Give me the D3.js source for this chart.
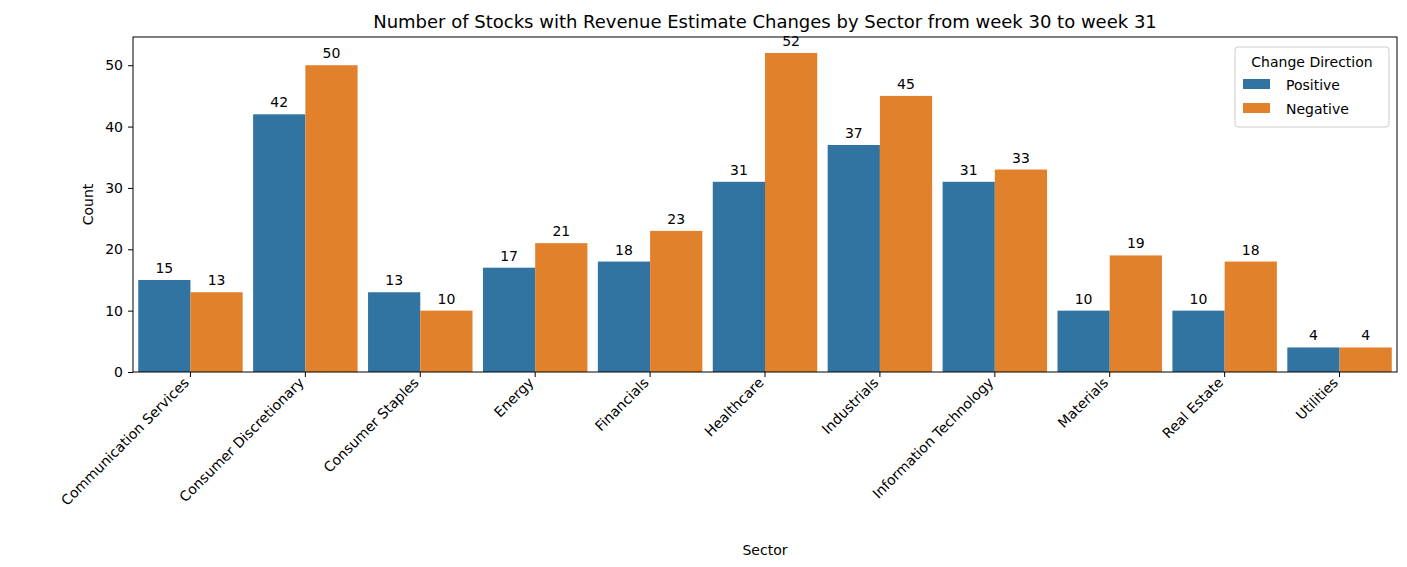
<!DOCTYPE html>
<html><head><meta charset="utf-8">
<script src="https://cdn.jsdelivr.net/npm/d3@7"></script>
<style>body{margin:0;background:#fff;font-family:"DejaVu Sans",sans-serif;}</style>
</head><body><svg id="chart" width="1407" height="567"></svg>
<script>
const sectors = ["Communication Services","Consumer Discretionary","Consumer Staples","Energy","Financials","Healthcare","Industrials","Information Technology","Materials","Real Estate","Utilities"];
const positive = [15,42,13,17,18,31,37,31,10,10,4];
const negative = [13,50,10,21,23,52,45,33,19,18,4];
const seriesNames = ["Positive","Negative"];
const colors = ["#3274a1","#e1812c"];
const yTicks = [0,10,20,30,40,50];

const svg = d3.select("#chart");
const m = {l:133, r:1397, t:37, b:372};
const x = d3.scaleBand().domain(sectors).range([m.l, m.r]).paddingInner(0).paddingOuter(0);
const x1 = d3.scaleBand().domain(seriesNames).range([0, x.bandwidth()]).paddingInner(0).paddingOuter(0.2 / 0.8 * 0.5 * 0.8 / 0.4 * 0.4);
const y = d3.scaleLinear().domain([0, 54.6]).range([m.b, m.t]);

svg.append("text").attr("x", (m.l+m.r)/2).attr("y", 28).attr("text-anchor","middle")
  .attr("font-size", 18).text("Number of Stocks with Revenue Estimate Changes by Sector from week 30 to week 31");

const data = [positive, negative];
data.forEach((vals, si) => {
  const g = svg.append("g");
  g.selectAll("rect").data(vals).enter().append("rect")
    .attr("x", (d,i) => x(sectors[i]) + x1(seriesNames[si]))
    .attr("y", d => y(d)).attr("width", x1.bandwidth())
    .attr("height", d => y(0) - y(d)).attr("fill", colors[si]);
  g.selectAll("text").data(vals).enter().append("text")
    .attr("x", (d,i) => x(sectors[i]) + x1(seriesNames[si]) + x1.bandwidth()/2)
    .attr("y", d => y(d) - 7).attr("text-anchor","middle").attr("font-size", 14).text(d => d);
});

const yAxis = svg.append("g").attr("transform", `translate(${m.l},0)`)
  .call(d3.axisLeft(y).tickValues(yTicks).tickSize(5).tickPadding(5));
yAxis.selectAll("text").attr("font-size", 14).attr("font-family","DejaVu Sans").attr("fill","#000");
yAxis.select(".domain").remove();

const xAxis = svg.append("g").attr("transform", `translate(0,${m.b})`)
  .call(d3.axisBottom(x).tickSize(5).tickSizeOuter(0));
xAxis.select(".domain").remove();
xAxis.selectAll("text").attr("font-size", 14).attr("font-family","DejaVu Sans").attr("fill","#000")
  .attr("text-anchor","end").attr("transform","translate(-4,8) rotate(-45)").attr("dy","0.35em").attr("y",0).attr("x",0);

svg.append("rect").attr("x", m.l).attr("y", m.t).attr("width", m.r-m.l).attr("height", m.b-m.t)
  .attr("fill","none").attr("stroke","#000").attr("stroke-width",1);

svg.append("text").attr("x", (m.l+m.r)/2).attr("y", 555).attr("text-anchor","middle").attr("font-size",14).text("Sector");
svg.append("text").attr("transform", `translate(93,${(m.t+m.b)/2}) rotate(-90)`).attr("text-anchor","middle").attr("font-size",14).text("Count");

const lg = svg.append("g").attr("transform","translate(1235,47)");
lg.append("rect").attr("width",154).attr("height",80).attr("rx",3).attr("fill","#fff").attr("fill-opacity",0.8).attr("stroke","#ccc");
lg.append("text").attr("x",77).attr("y",20).attr("text-anchor","middle").attr("font-size",14).text("Change Direction");
seriesNames.forEach((s,i) => {
  lg.append("rect").attr("x",8).attr("y",32+i*24).attr("width",27).attr("height",10).attr("fill",colors[i]);
  lg.append("text").attr("x",51).attr("y",43+i*24).attr("font-size",14).text(s);
});
</script></body></html>
